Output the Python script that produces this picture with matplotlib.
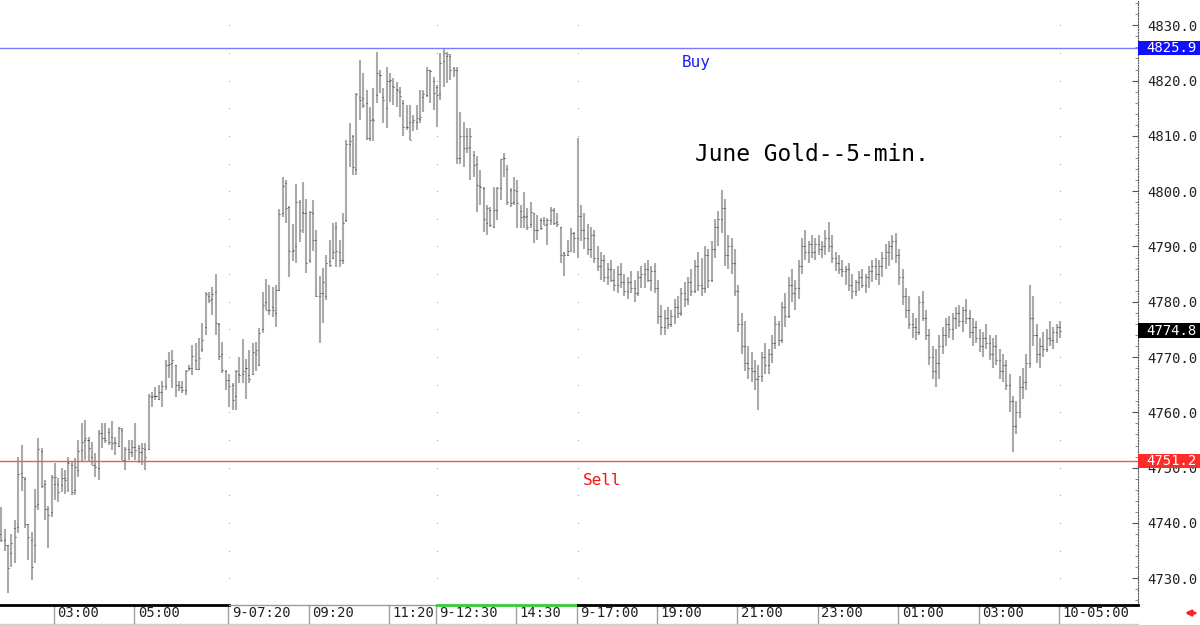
import matplotlib
matplotlib.use("Agg")
import matplotlib.pyplot as plt
from matplotlib.collections import LineCollection
from matplotlib.patches import Rectangle
from matplotlib.lines import Line2D
import matplotlib.transforms as mtransforms

opens = [
4738.0, 4737.0, 4736.0, 4734.5, 4739.0, 4739.3, 4749.0, 4748.0, 4739.8, 4737.0,
4736.0, 4743.5, 4753.0, 4747.0, 4742.6, 4742.0, 4747.0, 4747.0, 4746.9, 4748.1,
4751.0, 4750.5, 4746.0, 4749.6, 4753.2, 4755.0, 4755.0, 4752.0, 4750.5, 4750.0,
4756.2, 4755.3, 4756.4, 4755.5, 4754.7, 4754.0, 4756.8, 4751.4, 4753.4, 4752.9,
4753.8, 4753.5, 4752.9, 4753.3, 4753.3, 4762.8, 4763.0, 4762.5, 4763.6, 4764.8,
4768.6, 4769.0, 4768.5, 4765.0, 4764.5, 4764.0, 4768.0, 4768.0, 4769.5, 4767.8,
4771.4, 4775.5, 4781.0, 4780.5, 4781.8, 4776.0, 4770.5, 4767.5, 4765.9, 4765.0,
4763.0, 4766.9, 4767.0, 4768.0, 4766.8, 4767.0, 4770.5, 4768.5, 4775.0, 4780.0,
4778.5, 4779.0, 4778.0, 4782.2, 4796.0, 4801.4, 4797.2, 4789.1, 4790.0, 4798.0,
4796.3, 4796.0, 4787.5, 4796.0, 4791.2, 4781.0, 4781.5, 4781.0, 4787.3, 4788.0,
4793.6, 4789.0, 4787.6, 4794.8, 4808.5, 4809.9, 4804.0, 4817.0, 4816.8, 4816.0,
4809.6, 4813.0, 4817.4, 4821.0, 4817.0, 4815.0, 4820.0, 4819.0, 4818.5, 4818.0,
4816.0, 4811.6, 4812.5, 4812.5, 4812.5, 4813.0, 4817.1, 4817.4, 4821.9, 4820.0,
4818.9, 4817.5, 4823.5, 4824.5, 4824.5, 4822.2, 4822.0, 4806.0, 4810.0, 4809.9,
4808.0, 4806.5, 4805.0, 4801.0, 4800.5, 4794.2, 4796.6, 4793.6, 4796.6, 4800.5,
4806.0, 4804.0, 4800.2, 4798.0, 4800.0, 4796.4, 4795.5, 4795.5, 4794.0, 4796.0,
4793.0, 4794.8, 4794.8, 4794.0, 4794.8, 4796.6, 4794.5, 4793.5, 4788.8, 4788.5,
4789.2, 4792.4,
4791.5, 4795.5, 4793.0, 4791.5, 4789.5, 4792.0, 4788.0, 4786.5, 4787.5, 4784.5,
4786.0, 4784.0, 4783.0, 4785.0, 4783.5, 4782.0, 4783.5, 4782.5, 4781.5, 4784.5,
4785.0, 4786.0, 4784.0, 4785.5, 4782.5, 4777.5, 4775.5, 4777.0, 4776.0, 4777.5,
4779.0, 4778.0, 4781.5, 4780.5, 4783.5, 4782.0, 4786.5, 4783.0, 4782.5, 4788.5,
4784.0, 4789.5, 4793.5, 4795.0, 4797.0, 4788.5, 4790.0, 4787.0, 4782.0, 4776.0,
4772.0, 4769.0, 4768.0, 4767.5, 4766.0, 4766.5, 4770.0, 4768.5, 4770.5, 4772.5,
4776.0, 4773.0, 4779.0, 4777.5, 4783.0, 4781.5, 4782.5, 4786.5, 4790.0, 4789.0,
4790.5, 4789.0, 4790.5, 4789.5, 4790.0, 4791.5, 4790.0, 4788.0, 4787.0, 4786.0,
4785.5, 4786.0, 4783.0, 4782.0, 4783.5, 4784.5, 4783.0, 4784.5, 4785.5, 4786.5,
4785.0, 4786.5, 4788.0, 4789.0, 4790.0, 4791.0, 4788.5, 4784.5, 4781.0, 4778.5,
4776.0, 4775.5, 4774.5, 4780.0, 4777.0, 4774.0, 4770.0, 4767.5, 4769.0, 4772.0,
4774.0, 4776.0, 4775.0, 4777.0, 4778.0, 4776.5, 4778.5, 4777.0, 4774.5, 4775.5,
4773.5, 4772.0, 4773.5, 4772.5, 4770.5, 4772.0, 4769.5, 4767.5, 4768.5, 4765.0,
4762.0, 4757.5, 4760.0, 4764.5, 4765.5, 4769.0, 4777.0, 4774.0, 4770.5, 4772.0,
4771.5, 4773.5, 4773.0, 4774.5, 4775.5,
]

highs = [
4742.9, 4738.9, 4736.0, 4738.0, 4740.5, 4752.0, 4754.1, 4748.4, 4739.9, 4738.4,
4746.1, 4755.3, 4753.5, 4747.8, 4743.0, 4748.7, 4750.8, 4748.1, 4749.9, 4749.6,
4752.0, 4751.1, 4751.7, 4755.0, 4758.0, 4758.6, 4755.6, 4754.7, 4752.6, 4756.8,
4758.0, 4758.0, 4757.1, 4758.5, 4755.6, 4757.4, 4757.1, 4753.8, 4755.0, 4755.0,
4758.0, 4754.1, 4754.4, 4754.5, 4763.4, 4763.7, 4764.6, 4765.0, 4765.7, 4769.5,
4771.0, 4771.3, 4768.6, 4765.6, 4765.6, 4767.7, 4768.6, 4772.2, 4772.6, 4773.4,
4776.1, 4781.8, 4781.8, 4782.7, 4785.0, 4776.1, 4772.8, 4767.7, 4767.0, 4765.3,
4767.7, 4770.0, 4773.3, 4769.6, 4771.2, 4772.5, 4772.8, 4775.2, 4781.8, 4784.1,
4783.0, 4782.7, 4783.0, 4796.7, 4802.6, 4802.1, 4797.4, 4794.1, 4801.3, 4798.4,
4801.7, 4798.5, 4796.5, 4798.4, 4793.0, 4784.6, 4786.1, 4788.5, 4791.2, 4794.2,
4794.5, 4791.2, 4796.0, 4809.3, 4812.3, 4810.2, 4817.7, 4823.7, 4821.3, 4818.3,
4815.3, 4818.6, 4825.2, 4821.9, 4818.6, 4822.5, 4821.3, 4820.4, 4819.8, 4818.9,
4816.5, 4815.6, 4815.6, 4813.8, 4815.6, 4818.3, 4818.3, 4822.5, 4822.0, 4820.7,
4819.2, 4825.0, 4825.8, 4825.2, 4824.9, 4822.5, 4822.5, 4814.4, 4812.6, 4811.4,
4811.4, 4807.2, 4806.3, 4803.8, 4800.8, 4797.5, 4797.2, 4800.8, 4800.8, 4805.9,
4806.9, 4804.7, 4800.5, 4802.6, 4802.0, 4797.5, 4799.9, 4796.9, 4798.1, 4796.0,
4795.7, 4795.1, 4795.4, 4795.1, 4797.2, 4796.9, 4796.0, 4793.6, 4789.0, 4791.2,
4793.3, 4792.6,
4809.7, 4797.5, 4796.0, 4794.0, 4793.5, 4793.0, 4790.0, 4789.0, 4788.5, 4787.0,
4787.5, 4786.0, 4786.5, 4787.0, 4785.0, 4784.5, 4785.5, 4784.0, 4785.5, 4786.5,
4787.0, 4787.5, 4786.5, 4787.0, 4784.0, 4779.5, 4778.5, 4779.0, 4778.5, 4780.5,
4781.0, 4782.5, 4783.5, 4784.5, 4786.0, 4787.5, 4789.0, 4788.0, 4790.0, 4789.5,
4791.0, 4795.0, 4796.5, 4800.3, 4798.5, 4792.0, 4791.5, 4789.5, 4783.0, 4778.0,
4776.5, 4772.0, 4771.0, 4769.5, 4768.5, 4771.0, 4772.5, 4771.5, 4774.0, 4777.5,
4776.5, 4780.0, 4781.5, 4784.5, 4786.0, 4784.0, 4787.5, 4791.5, 4793.0, 4791.0,
4792.0, 4791.5, 4792.0, 4791.0, 4793.0, 4794.5, 4792.0, 4789.0, 4788.5, 4787.5,
4786.5, 4787.0, 4785.0, 4784.0, 4785.5, 4786.0, 4785.0, 4786.5, 4787.5, 4788.0,
4787.5, 4789.0, 4790.5, 4791.0, 4792.0, 4792.5, 4789.5, 4786.0, 4782.5, 4781.0,
4778.0, 4777.0, 4781.0, 4782.0, 4778.5, 4775.0, 4772.0, 4771.5, 4774.0, 4775.5,
4777.0, 4777.5, 4778.0, 4779.0, 4779.5, 4779.0, 4780.5, 4778.5, 4777.0, 4776.5,
4775.0, 4774.5, 4776.0, 4774.0, 4773.5, 4774.0, 4771.5, 4770.5, 4769.5, 4767.0,
4763.0, 4762.0, 4766.5, 4768.0, 4770.5, 4783.0, 4781.0, 4776.0, 4773.5, 4774.5,
4775.0, 4776.5, 4775.5, 4776.0, 4776.5,
]

lows = [
4736.5, 4735.0, 4727.3, 4732.1, 4732.7, 4738.1, 4745.7, 4739.0, 4733.3, 4729.7,
4732.7, 4742.3, 4746.3, 4740.5, 4735.4, 4741.1, 4744.1, 4743.8, 4745.6, 4745.3,
4745.6, 4745.0, 4745.0, 4748.4, 4751.1, 4751.4, 4751.1, 4750.5, 4748.4, 4747.8,
4753.5, 4754.4, 4754.1, 4753.2, 4752.3, 4753.8, 4751.3, 4749.6, 4751.3, 4752.0,
4751.4, 4750.8, 4750.5, 4749.6, 4753.2, 4761.0, 4762.2, 4762.3, 4761.0, 4764.1,
4766.2, 4764.4, 4762.8, 4763.8, 4763.5, 4763.2, 4767.4, 4766.8, 4767.7, 4767.7,
4771.0, 4774.0, 4779.7, 4777.6, 4774.0, 4769.5, 4767.1, 4764.1, 4761.0, 4760.4,
4760.4, 4765.3, 4765.3, 4762.5, 4765.3, 4766.8, 4767.4, 4768.3, 4774.3, 4778.5,
4777.6, 4777.3, 4775.5, 4782.0, 4795.4, 4794.2, 4784.4, 4787.3, 4787.1, 4790.9,
4792.4, 4785.2, 4787.0, 4789.1, 4780.9, 4772.5, 4776.1, 4780.3, 4786.3, 4787.8,
4786.3, 4786.3, 4786.9, 4794.5, 4804.4, 4803.0, 4803.0, 4812.9, 4815.0, 4809.3,
4809.0, 4809.0, 4815.9, 4817.7, 4812.3, 4811.4, 4816.2, 4815.6, 4815.3, 4813.5,
4809.9, 4811.1, 4809.3, 4810.8, 4811.1, 4812.3, 4814.4, 4817.1, 4815.9, 4814.7,
4811.7, 4816.5, 4818.9, 4819.5, 4820.2, 4820.7, 4805.0, 4805.0, 4804.4, 4806.9,
4802.0, 4802.6, 4796.3, 4797.5, 4792.7, 4792.1, 4793.6, 4793.3, 4794.8, 4798.4,
4802.6, 4797.5, 4797.2, 4797.5, 4793.3, 4793.3, 4793.3, 4793.0, 4793.3, 4790.6,
4791.2, 4793.0, 4793.9, 4790.3, 4793.9, 4793.9, 4793.6, 4787.0, 4784.6, 4788.2,
4789.1, 4788.8,
4788.0, 4791.0, 4789.5, 4788.5, 4788.0, 4787.0, 4785.5, 4784.0, 4783.5, 4783.0,
4783.5, 4782.0, 4781.5, 4782.5, 4781.0, 4780.5, 4781.5, 4780.0, 4781.0, 4782.5,
4782.5, 4783.5, 4782.0, 4781.5, 4776.0, 4774.0, 4774.0, 4775.0, 4775.5, 4776.0,
4777.0, 4777.5, 4779.0, 4779.5, 4781.0, 4781.5, 4782.0, 4781.0, 4781.5, 4782.5,
4783.5, 4788.0, 4790.0, 4792.5, 4786.5, 4786.0, 4785.0, 4781.0, 4774.5, 4770.5,
4767.5, 4766.0, 4765.5, 4764.0, 4760.4, 4765.5, 4767.0, 4767.0, 4769.0, 4771.5,
4772.0, 4772.5, 4775.5, 4777.0, 4780.0, 4778.5, 4780.5, 4785.0, 4787.5, 4787.0,
4788.0, 4787.5, 4788.5, 4788.0, 4788.5, 4789.0, 4787.0, 4785.5, 4785.0, 4784.5,
4783.0, 4782.0, 4780.5, 4781.0, 4782.0, 4782.5, 4781.5, 4782.5, 4783.5, 4784.0,
4783.0, 4784.5, 4786.0, 4786.5, 4787.5, 4787.0, 4783.0, 4779.5, 4777.0, 4775.0,
4773.5, 4773.0, 4774.0, 4776.5, 4773.0, 4768.5, 4766.0, 4764.5, 4766.0, 4770.5,
4772.0, 4773.5, 4773.0, 4775.0, 4775.5, 4774.5, 4776.0, 4773.5, 4772.0, 4772.5,
4771.0, 4770.0, 4771.5, 4769.5, 4768.0, 4768.5, 4766.0, 4765.5, 4764.0, 4760.0,
4752.8, 4756.0, 4759.0, 4762.5, 4764.0, 4768.0, 4772.0, 4769.0, 4768.0, 4770.0,
4771.0, 4772.0, 4771.5, 4772.5, 4773.5,
]

closes = [
4736.9, 4736.0, 4731.8, 4736.3, 4737.5, 4748.8, 4748.4, 4739.8, 4737.5, 4732.1,
4743.0, 4753.4, 4746.6, 4742.6, 4741.4, 4748.4, 4748.4, 4745.6, 4748.1, 4747.8,
4750.8, 4745.6, 4750.2, 4753.1, 4754.7, 4755.3, 4753.5, 4750.5, 4750.2, 4756.2,
4755.3, 4755.0, 4754.7, 4754.4, 4754.4, 4757.1, 4751.4, 4753.4, 4752.9, 4753.8,
4753.2, 4752.9, 4753.5, 4751.9, 4762.9, 4762.9, 4763.0, 4763.6, 4764.8, 4768.6,
4768.8, 4769.5, 4765.0, 4764.6, 4764.0, 4767.5, 4768.0, 4770.2, 4767.8, 4769.8,
4773.0, 4781.4, 4780.3, 4781.4, 4776.1, 4770.2, 4767.7, 4765.9, 4764.7, 4762.2,
4767.5, 4766.7, 4767.5, 4768.0, 4766.1, 4771.0, 4771.3, 4774.4, 4779.4, 4778.5,
4778.5, 4778.5, 4782.1, 4795.8, 4800.9, 4796.9, 4789.1, 4789.4, 4798.1, 4792.9,
4796.0, 4787.0, 4796.3, 4791.2, 4781.0, 4781.5, 4783.6, 4787.0, 4786.6, 4789.0,
4789.1, 4787.6, 4794.2, 4808.5, 4809.0, 4804.4, 4817.5, 4816.5, 4815.6, 4809.6,
4812.9, 4812.9, 4821.3, 4821.0, 4816.5, 4820.0, 4820.1, 4818.8, 4818.3, 4817.2,
4811.6, 4811.7, 4809.3, 4812.9, 4813.2, 4813.4, 4817.6, 4821.9, 4821.8, 4817.7,
4817.4, 4823.1, 4825.0, 4824.9, 4822.0, 4822.0, 4806.0, 4809.9, 4807.8, 4807.8,
4809.9, 4804.7, 4801.1, 4800.8, 4794.9, 4796.9, 4793.9, 4796.6, 4800.5, 4805.8,
4806.0, 4798.1, 4797.8, 4800.2, 4797.8, 4795.4, 4795.4, 4793.6, 4796.3, 4793.0,
4793.0, 4793.3, 4793.9, 4794.8, 4796.6, 4794.2, 4794.0, 4788.5, 4788.5, 4789.1,
4792.4, 4791.5,
4795.5, 4793.0, 4791.5, 4789.5, 4792.0, 4788.0, 4786.5, 4787.5, 4784.5, 4786.0,
4784.0, 4783.0, 4785.0, 4783.5, 4782.0, 4783.5, 4782.5, 4781.5, 4784.5, 4785.0,
4786.0, 4784.0, 4785.5, 4782.5, 4777.5, 4775.5, 4777.0, 4776.0, 4777.5, 4779.0,
4778.0, 4781.5, 4780.5, 4783.5, 4782.0, 4786.5, 4783.0, 4782.5, 4788.5, 4784.0,
4789.5, 4793.5, 4795.0, 4797.0, 4788.5, 4790.0, 4787.0, 4782.0, 4776.0, 4772.0,
4769.0, 4768.0, 4767.5, 4766.0, 4766.5, 4770.0, 4768.5, 4770.5, 4772.5, 4776.0,
4773.0, 4779.0, 4777.5, 4783.0, 4781.5, 4782.5, 4786.5, 4790.0, 4789.0, 4790.5,
4789.0, 4790.5, 4789.5, 4790.0, 4791.5, 4790.0, 4788.0, 4787.0, 4786.0, 4785.5,
4786.0, 4783.0, 4782.0, 4783.5, 4784.5, 4783.0, 4784.5, 4785.5, 4786.5, 4785.0,
4786.5, 4788.0, 4789.0, 4790.0, 4791.0, 4788.5, 4784.5, 4781.0, 4778.5, 4776.0,
4775.5, 4774.5, 4780.0, 4777.0, 4774.0, 4770.0, 4767.5, 4769.0, 4772.0, 4774.0,
4776.0, 4775.0, 4777.0, 4778.0, 4776.5, 4778.5, 4777.0, 4774.5, 4775.5, 4773.5,
4772.0, 4773.5, 4772.5, 4770.5, 4772.0, 4769.5, 4767.5, 4768.5, 4765.0, 4762.0,
4757.5, 4760.0, 4764.5, 4765.5, 4769.0, 4777.0, 4774.0, 4770.5, 4772.0, 4771.5,
4773.5, 4773.0, 4774.5, 4775.5, 4774.8,
]

buy_level = 4825.9
sell_level = 4751.2
last_price = 4774.8
y_ticks = [4730, 4740, 4750, 4760, 4770, 4780, 4790, 4800, 4810, 4820, 4830]
time_labels = ["03:00", "05:00", "9-07:20", "09:20", "11:20", "9-12:30", "14:30",
               "9-17:00", "19:00", "21:00", "23:00", "01:00", "03:00", "10-05:00"]
time_label_bars = [16, 40, 68, 92, 116, 130, 154, 172, 196, 220, 244, 268, 292, 316]
date_break_bars = [68, 130, 172, 316]
grid_levels = list(range(4730, 4835, 5))
title_text = "June Gold--5-min."

MONO = "DejaVu Sans Mono"
W, H = 1200, 625
fig = plt.figure(figsize=(W / 100, H / 100), dpi=100)
fig.patch.set_facecolor("white")
ax = fig.add_axes([0, 20 / H, 1138 / W, 605 / H])
ax.set_facecolor("white")
ax.set_xlim(-0.42, 339.3)
ax.set_ylim(4725.16, 4834.58)

for s in ["top", "left", "bottom"]:
    ax.spines[s].set_visible(False)
ax.spines["right"].set_linestyle((0, (1, 1.5)))
ax.spines["right"].set_color("#555555")
ax.spines["right"].set_linewidth(0.8)

ax.set_xticks([])
ax.yaxis.tick_right()
ax.set_yticks(y_ticks)
ax.set_yticklabels([f"{v:.1f}" for v in y_ticks], fontfamily=MONO)
ax.set_yticks(list(range(4726, 4836, 2)), minor=True)
ax.tick_params(axis="y", which="major", direction="in", length=4, width=0.8,
               color="#555555", labelsize=10, labelcolor="#222222", pad=7)
ax.tick_params(axis="y", which="minor", direction="in", length=2, width=0.6,
               color="#777777")

# date-break dotted verticals
for b in date_break_bars:
    ax.scatter([b] * len(grid_levels), grid_levels, s=0.6, color="#909090",
               zorder=1, linewidths=0)

# bars
n = len(closes)
segs = [[(i, lows[i]), (i, highs[i])] for i in range(n)]
ax.add_collection(LineCollection(segs, colors="#aaaaaa", linewidths=1.5, zorder=2))
otk = [[(i - 0.3, opens[i]), (i, opens[i])] for i in range(n)]
ctk = [[(i, closes[i]), (i + 0.3, closes[i])] for i in range(n)]
ax.add_collection(LineCollection(otk + ctk, colors="#444444", linewidths=0.8, zorder=3))

# buy / sell lines
ax.axhline(buy_level, color="#7a7aff", lw=1.0, zorder=4)
ax.axhline(sell_level, color="#e06060", lw=1.0, zorder=4)
ax.text(203.2, 4823.2, "Buy", color="#1a1aff", fontsize=11.5, fontfamily=MONO,
        ha="left", va="center")
ax.text(173.6, 4747.6, "Sell", color="#ff1010", fontsize=11.5, fontfamily=MONO,
        ha="left", va="center")
ax.text(207.0, 4806.6, title_text, color="black", fontsize=16.5, fontfamily=MONO,
        ha="left", va="center")

# right price boxes
tb = mtransforms.blended_transform_factory(fig.transFigure, ax.transData)
for lvl, col in [(buy_level, "#1010ff"), (sell_level, "#ff2a2a"), (last_price, "#000000")]:
    fig.add_artist(Rectangle((1138 / W, lvl - 1.3), 62 / W, 2.6, transform=tb,
                             facecolor=col, edgecolor="none", zorder=5))
    fig.text(1146 / W, lvl, f"{lvl:.1f}", transform=tb, color="white", fontsize=10,
             fontfamily=MONO, va="center", ha="left", zorder=6)

# bottom time axis
bt = mtransforms.blended_transform_factory(ax.transData, fig.transFigure)
xl0, xl1 = ax.get_xlim()
yb = 1 - 605 / H
for x0, x1, col, lw in [(xl0, 68, "#000000", 2.0), (68, 130, "#9a9a9a", 1.0),
                        (130, 172, "#33cc33", 2.0), (172, xl1, "#000000", 2.0)]:
    fig.add_artist(Line2D([x0, x1], [yb, yb], transform=bt, color=col, lw=lw, zorder=5))
fig.add_artist(Line2D([0, 1138 / W], [1 / H, 1 / H], transform=fig.transFigure,
                      color="#cfcfcf", lw=1.0))
for b, lab in zip(time_label_bars, time_labels):
    fig.add_artist(Line2D([b - 0.3, b - 0.3], [2 / H, yb], transform=bt,
                          color="#a0a0a0", lw=1.0))
    tt = mtransforms.offset_copy(bt, fig=fig, x=2.5, y=0, units="dots")
    fig.text(b, 12 / H, lab, transform=tt, fontsize=10, fontfamily=MONO,
             color="#222222", ha="left", va="center")

# small red arrow bottom right
ax.annotate("", xy=(1182, 12), xytext=(1198, 12), xycoords="figure pixels",
            textcoords="figure pixels", annotation_clip=False,
            arrowprops=dict(arrowstyle="-|>", color="#ff2020", lw=2.0,
                            mutation_scale=8))

fig.savefig("out.png", dpi=100, facecolor="white")
